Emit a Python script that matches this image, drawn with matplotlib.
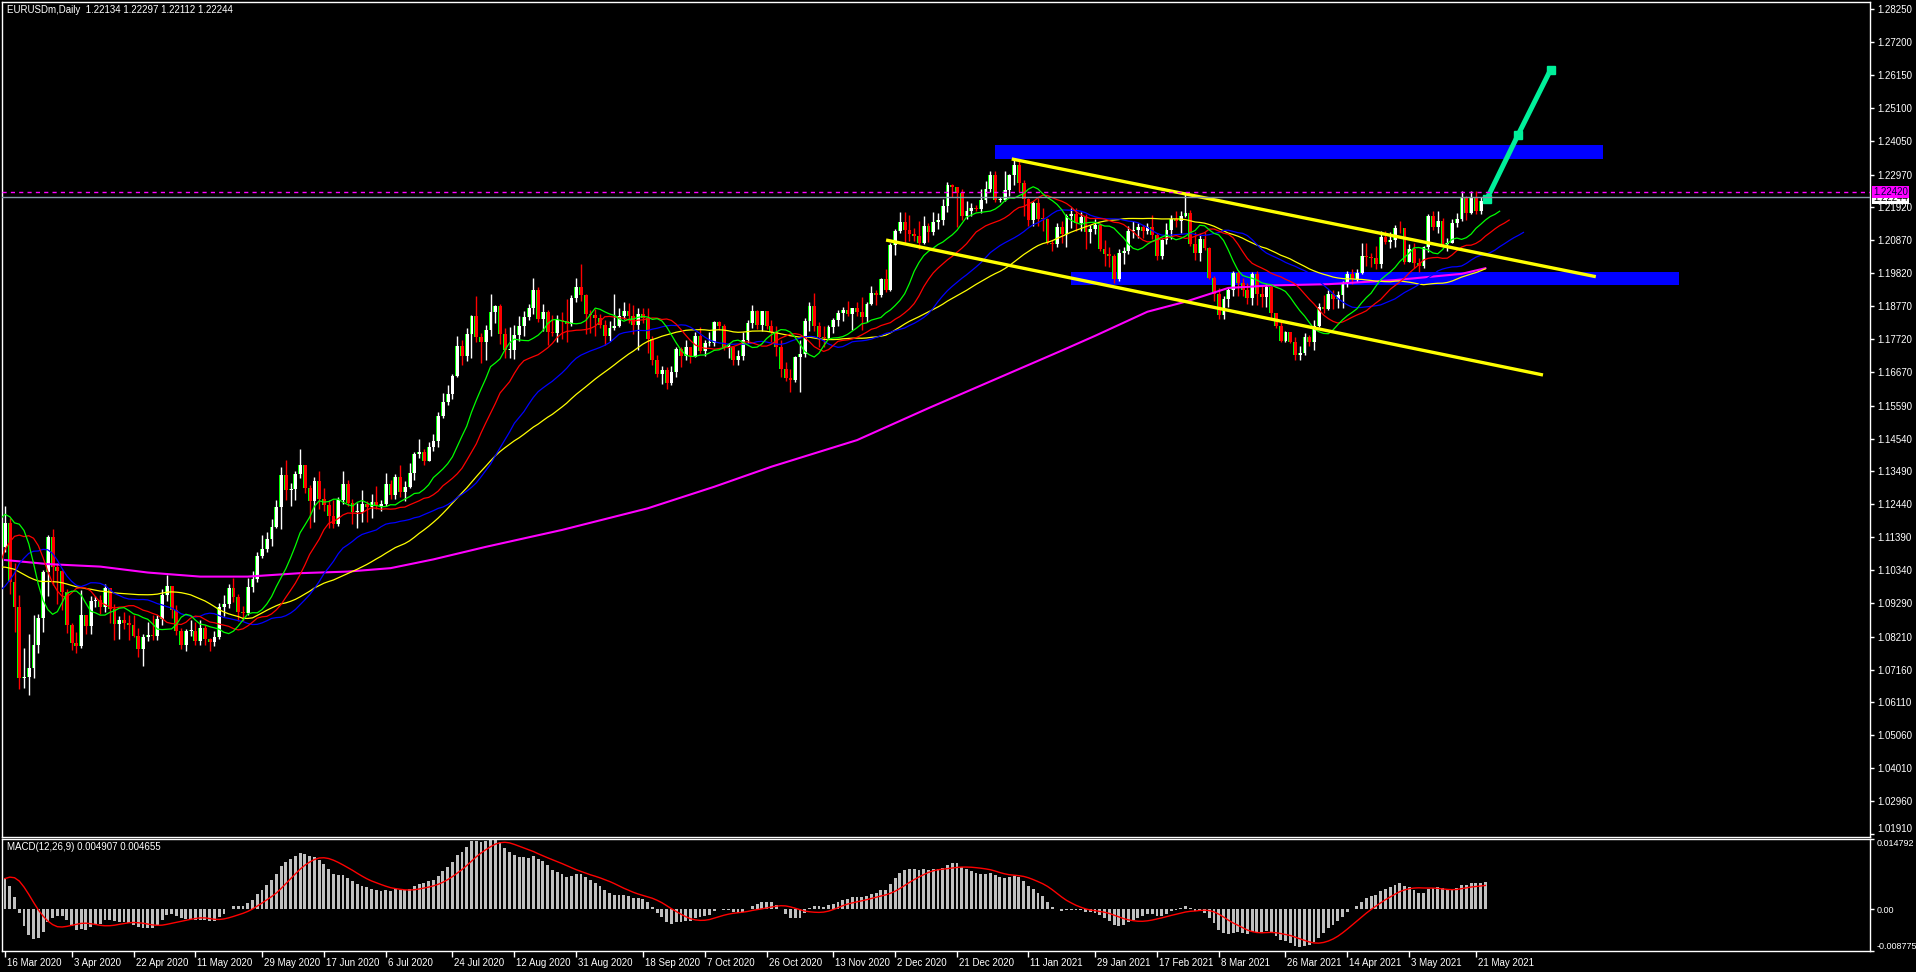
import numpy as np
import pandas as pd
import matplotlib
matplotlib.use('Agg')
import matplotlib.pyplot as plt
from matplotlib.transforms import ScaledTranslation

plt.rcParams['font.family'] = ['Liberation Sans', 'DejaVu Sans']

# daily closes before the first visible bar (2 Jan - 13 Mar 2020), only used to warm up indicators
pre_closes = [1.1172, 1.1160,
              1.1196, 1.1152, 1.1103, 1.1105, 1.1122,
              1.1134, 1.1128, 1.1150, 1.1138, 1.1091,
              1.1095, 1.1083, 1.1093, 1.1054, 1.1025,
              1.1019, 1.1021, 1.1009, 1.1031, 1.1093,
              1.1061, 1.1044, 1.1000, 1.0982, 1.0945,
              1.0914, 1.0915, 1.0873, 1.0839, 1.0830,
              1.0837, 1.0791, 1.0804, 1.0785, 1.0846,
              1.0853, 1.0882, 1.0882, 1.0994, 1.1026,
              1.1137, 1.1174, 1.1136, 1.1236, 1.1285,
              1.1424, 1.1285, 1.1270, 1.1174, 1.1106]

# EURUSD daily bars, 16 Mar 2020 - 25 May 2021 (one row per week)
closes = [1.1183, 1.0995, 1.0915, 1.0690, 1.0693,
          1.0722, 1.0795, 1.0881, 1.1029, 1.1141,
          1.1043, 1.1031, 1.0964, 1.0857, 1.0801,
          1.0792, 1.0890, 1.0855, 1.0935, 1.0937,
          1.0915, 1.0977, 1.0908, 1.0863, 1.0875,
          1.0864, 1.0857, 1.0823, 1.0782, 1.0820,
          1.0826, 1.0822, 1.0877, 1.0954, 1.0982,
          1.0907, 1.0838, 1.0796, 1.0838, 1.0839,
          1.0807, 1.0850, 1.0815, 1.0804, 1.0819,
          1.0917, 1.0924, 1.0976, 1.0947, 1.0899,
          1.0898, 1.0980, 1.1006, 1.1079, 1.1100,
          1.1134, 1.1171, 1.1234, 1.1338, 1.1290,
          1.1293, 1.1340, 1.1368, 1.1296, 1.1256,
          1.1317, 1.1262, 1.1243, 1.1205, 1.1180,
          1.1258, 1.1310, 1.1248, 1.1220, 1.1220,
          1.1244, 1.1234, 1.1251, 1.1238, 1.1245,
          1.1310, 1.1274, 1.1331, 1.1284, 1.1299,
          1.1343, 1.1405, 1.1412, 1.1383, 1.1428,
          1.1447, 1.1525, 1.1570, 1.1595, 1.1655,
          1.1750, 1.1717, 1.1789, 1.1845, 1.1777,
          1.1762, 1.1800, 1.1859, 1.1877, 1.1787,
          1.1737, 1.1738, 1.1786, 1.1812, 1.1841,
          1.1870, 1.1930, 1.1836, 1.1858, 1.1795,
          1.1792, 1.1833, 1.1831, 1.1820, 1.1903,
          1.1937, 1.1913, 1.1853, 1.1849, 1.1838,
          1.1817, 1.1780, 1.1806, 1.1815, 1.1845,
          1.1862, 1.1844, 1.1816, 1.1852, 1.1839,
          1.1772, 1.1706, 1.1660, 1.1672, 1.1631,
          1.1666, 1.1740, 1.1718, 1.1747, 1.1715,
          1.1782, 1.1735, 1.1759, 1.1760, 1.1827,
          1.1814, 1.1745, 1.1746, 1.1706, 1.1718,
          1.1769, 1.1822, 1.1861, 1.1818, 1.1860,
          1.1813, 1.1793, 1.1746, 1.1676, 1.1647,
          1.1642, 1.1716, 1.1723, 1.1831, 1.1877,
          1.1814, 1.1779, 1.1776, 1.1809, 1.1834,
          1.1855, 1.1864, 1.1853, 1.1871, 1.1857,
          1.1841, 1.1885, 1.1920, 1.1914, 1.1963,
          1.1928, 1.2072, 1.2116, 1.2146, 1.2121,
          1.2106, 1.2100, 1.2079, 1.2134, 1.2114,
          1.2145, 1.2151, 1.2197, 1.2264, 1.2256,
          1.2239, 1.2165, 1.2182, 1.2189, 1.2188,
          1.2215, 1.2250, 1.2297, 1.2216, 1.2216,
          1.2249, 1.2297, 1.2328, 1.2271, 1.2220,
          1.2151, 1.2207, 1.2156, 1.2155, 1.2079,
          1.2076, 1.2131, 1.2107, 1.2164, 1.2171,
          1.2141, 1.2161, 1.2114, 1.2124, 1.2136,
          1.2060, 1.2042, 1.2036, 1.1963, 1.2047,
          1.2052, 1.2117, 1.2120, 1.2130, 1.2118,
          1.2130, 1.2103, 1.2038, 1.2089, 1.2120,
          1.2155, 1.2149, 1.2165, 1.2175, 1.2075,
          1.2048, 1.2090, 1.2063, 1.1967, 1.1915,
          1.1847, 1.1901, 1.1928, 1.1984, 1.1952,
          1.1928, 1.1902, 1.1978, 1.1915, 1.1906,
          1.1938, 1.1854, 1.1813, 1.1764, 1.1794,
          1.1763, 1.1720, 1.1728, 1.1778, 1.1762,
          1.1813, 1.1873, 1.1869, 1.1916, 1.1899,
          1.1912, 1.1947, 1.1980, 1.1964, 1.1982,
          1.2037, 1.2035, 1.2032, 1.2013, 1.2097,
          1.2081, 1.2087, 1.2128, 1.2125, 1.2018,
          1.2060, 1.2016, 1.2004, 1.2065, 1.2165,
          1.2131, 1.2149, 1.2076, 1.2080, 1.2143,
          1.2155, 1.2222, 1.2175, 1.2227, 1.2180,
          1.2213, 1.22244]

highs = [1.1237, 1.1200, 1.1058, 1.0955, 1.0784,
         1.0830, 1.0890, 1.0895, 1.1035, 1.1147,
         1.1166, 1.1058, 1.1034, 1.0973, 1.0864,
         1.0836, 1.0969, 1.0891, 1.0952, 1.0950,
         1.0955, 1.0990, 1.0966, 1.0925, 1.0886,
         1.0901, 1.0890, 1.0890, 1.0850, 1.0829,
         1.0868, 1.0890, 1.0890, 1.0973, 1.1019,
         1.0977, 1.0921, 1.0848, 1.0845, 1.0875,
         1.0867, 1.0874, 1.0860, 1.0818, 1.0838,
         1.0928, 1.0955, 1.0990, 1.1009, 1.0957,
         1.0920, 1.1008, 1.1030, 1.1092, 1.1147,
         1.1155, 1.1196, 1.1257, 1.1362, 1.1384,
         1.1311, 1.1350, 1.1422, 1.1371, 1.1305,
         1.1330, 1.1351, 1.1297, 1.1257, 1.1257,
         1.1267, 1.1349, 1.1320, 1.1262, 1.1247,
         1.1289, 1.1253, 1.1276, 1.1303, 1.1259,
         1.1345, 1.1323, 1.1341, 1.1371, 1.1318,
         1.1375, 1.1412, 1.1452, 1.1422, 1.1444,
         1.1467, 1.1540, 1.1601, 1.1625, 1.1660,
         1.1781, 1.1768, 1.1806, 1.1848, 1.1909,
         1.1790, 1.1818, 1.1916, 1.1882, 1.1884,
         1.1806, 1.1809, 1.1818, 1.1846, 1.1861,
         1.1884, 1.1966, 1.1937, 1.1883, 1.1864,
         1.1848, 1.1847, 1.1857, 1.1900, 1.1914,
         1.1966, 1.2011, 1.1915, 1.1863, 1.1869,
         1.1852, 1.1834, 1.1830, 1.1917, 1.1870,
         1.1890, 1.1888, 1.1882, 1.1872, 1.1872,
         1.1871, 1.1782, 1.1720, 1.1686, 1.1683,
         1.1685, 1.1745, 1.1747, 1.1770, 1.1747,
         1.1794, 1.1810, 1.1769, 1.1793, 1.1831,
         1.1830, 1.1820, 1.1760, 1.1744, 1.1737,
         1.1795, 1.1833, 1.1880, 1.1864, 1.1861,
         1.1859, 1.1832, 1.1814, 1.1769, 1.1700,
         1.1676, 1.1719, 1.1770, 1.1838, 1.1891,
         1.1920, 1.1827, 1.1815, 1.1816, 1.1838,
         1.1864, 1.1873, 1.1894, 1.1869, 1.1891,
         1.1905, 1.1890, 1.1942, 1.1930, 1.1966,
         1.1996, 1.2078, 1.2122, 1.2177, 1.2177,
         1.2167, 1.2127, 1.2148, 1.2164, 1.2143,
         1.2178, 1.2175, 1.2219, 1.2273, 1.2266,
         1.2250, 1.2250, 1.2213, 1.2205, 1.2200,
         1.2250, 1.2276, 1.2310, 1.2310, 1.2225,
         1.2310, 1.2300, 1.2349, 1.2339, 1.2281,
         1.2221, 1.2212, 1.2222, 1.2190, 1.2158,
         1.2089, 1.2144, 1.2148, 1.2172, 1.2190,
         1.2189, 1.2176, 1.2170, 1.2137, 1.2156,
         1.2144, 1.2087, 1.2065, 1.2044, 1.2058,
         1.2065, 1.2132, 1.2150, 1.2144, 1.2135,
         1.2144, 1.2169, 1.2110, 1.2092, 1.2144,
         1.2169, 1.2182, 1.2180, 1.2243, 1.2183,
         1.2113, 1.2106, 1.2114, 1.2066, 1.1974,
         1.1935, 1.1909, 1.1938, 1.1990, 1.1990,
         1.1966, 1.1951, 1.1985, 1.1989, 1.1940,
         1.1946, 1.1942, 1.1853, 1.1830, 1.1799,
         1.1794, 1.1779, 1.1748, 1.1791, 1.1785,
         1.1834, 1.1888, 1.1914, 1.1927, 1.1928,
         1.1926, 1.1958, 1.1990, 1.1995, 1.1995,
         1.2080, 1.2080, 1.2048, 1.2070, 1.2117,
         1.2116, 1.2115, 1.2135, 1.2150, 1.2125,
         1.2075, 1.2078, 1.2032, 1.2068, 1.2172,
         1.2182, 1.2180, 1.2157, 1.2095, 1.2154,
         1.2174, 1.2245, 1.2228, 1.2244, 1.2244,
         1.2225, 1.22297]

lows = [1.1090, 1.0958, 1.0836, 1.0655, 1.0656,
        1.0636, 1.0690, 1.0770, 1.0835, 1.0952,
        1.0985, 1.0926, 1.0906, 1.0832, 1.0780,
        1.0768, 1.0784, 1.0830, 1.0830, 1.0915,
        1.0895, 1.0900, 1.0865, 1.0812, 1.0815,
        1.0846, 1.0812, 1.0820, 1.0757, 1.0727,
        1.0808, 1.0809, 1.0810, 1.0857, 1.0934,
        1.0880, 1.0825, 1.0782, 1.0775, 1.0822,
        1.0795, 1.0794, 1.0795, 1.0774, 1.0790,
        1.0813, 1.0886, 1.0913, 1.0933, 1.0870,
        1.0872, 1.0890, 1.0963, 1.0995, 1.1072,
        1.1093, 1.1110, 1.1167, 1.1166, 1.1257,
        1.1240, 1.1257, 1.1329, 1.1279, 1.1168,
        1.1187, 1.1230, 1.1223, 1.1168, 1.1167,
        1.1174, 1.1244, 1.1238, 1.1181, 1.1167,
        1.1189, 1.1188, 1.1200, 1.1229, 1.1223,
        1.1240, 1.1262, 1.1262, 1.1266, 1.1255,
        1.1296, 1.1320, 1.1393, 1.1370, 1.1383,
        1.1414, 1.1427, 1.1521, 1.1562, 1.1580,
        1.1652, 1.1690, 1.1702, 1.1712, 1.1763,
        1.1696, 1.1705, 1.1780, 1.1822, 1.1755,
        1.1711, 1.1712, 1.1709, 1.1767, 1.1783,
        1.1833, 1.1852, 1.1826, 1.1798, 1.1753,
        1.1782, 1.1761, 1.1772, 1.1762, 1.1815,
        1.1890, 1.1892, 1.1789, 1.1790, 1.1780,
        1.1806, 1.1752, 1.1765, 1.1800, 1.1810,
        1.1836, 1.1822, 1.1787, 1.1737, 1.1822,
        1.1728, 1.1688, 1.1649, 1.1627, 1.1612,
        1.1626, 1.1652, 1.1684, 1.1706, 1.1696,
        1.1714, 1.1728, 1.1718, 1.1749, 1.1751,
        1.1800, 1.1737, 1.1710, 1.1688, 1.1689,
        1.1706, 1.1760, 1.1806, 1.1805, 1.1796,
        1.1805, 1.1761, 1.1718, 1.1651, 1.1639,
        1.1602, 1.1636, 1.1603, 1.1715, 1.1797,
        1.1799, 1.1747, 1.1746, 1.1771, 1.1792,
        1.1815, 1.1829, 1.1846, 1.1800, 1.1845,
        1.1800, 1.1825, 1.1880, 1.1880, 1.1906,
        1.1923, 1.1925, 1.2039, 1.2110, 1.2080,
        1.2086, 1.2085, 1.2060, 1.2074, 1.2082,
        1.2105, 1.2124, 1.2137, 1.2176, 1.2224,
        1.2130, 1.2153, 1.2156, 1.2165, 1.2180,
        1.2175, 1.2205, 1.2240, 1.2211, 1.2210,
        1.2212, 1.2230, 1.2263, 1.2240, 1.2164,
        1.2132, 1.2133, 1.2132, 1.2117, 1.2074,
        1.2054, 1.2065, 1.2080, 1.2065, 1.2127,
        1.2116, 1.2118, 1.2058, 1.2080, 1.2107,
        1.2052, 1.2005, 1.2003, 1.1952, 1.1956,
        1.2010, 1.2045, 1.2094, 1.2096, 1.2093,
        1.2107, 1.2092, 1.2023, 1.2026, 1.2076,
        1.2091, 1.2130, 1.2110, 1.2163, 1.2069,
        1.2025, 1.2022, 1.2055, 1.1965, 1.1893,
        1.1835, 1.1836, 1.1875, 1.1910, 1.1910,
        1.1910, 1.1883, 1.1880, 1.1880, 1.1873,
        1.1874, 1.1840, 1.1808, 1.1762, 1.1761,
        1.1760, 1.1704, 1.1704, 1.1722, 1.1749,
        1.1737, 1.1811, 1.1854, 1.1866, 1.1869,
        1.1871, 1.1870, 1.1939, 1.1948, 1.1955,
        1.1980, 1.2005, 1.2003, 1.1995, 1.2000,
        1.2075, 1.2062, 1.2065, 1.2109, 1.2012,
        1.2017, 1.1999, 1.1986, 1.2000, 1.2051,
        1.2120, 1.2110, 1.2066, 1.2052, 1.2080,
        1.2131, 1.2150, 1.2152, 1.2170, 1.2171,
        1.2172, 1.22112]

# 200-day MA (magenta) at a few dates
ma200_dates = ['2020-03-16', '2020-03-27', '2020-04-13', '2020-04-27', '2020-05-12',
               '2020-05-26', '2020-06-10', '2020-06-24', '2020-07-07', '2020-07-20',
               '2020-08-04', '2020-08-26', '2020-09-21', '2020-10-09', '2020-10-27',
               '2020-11-20', '2020-12-11', '2020-12-31', '2021-01-20', '2021-01-29',
               '2021-02-15', '2021-02-25', '2021-03-10', '2021-03-23', '2021-04-08',
               '2021-04-28', '2021-05-18', '2021-05-25']
ma200_vals = [1.1066, 1.1053, 1.1045, 1.1026, 1.1013, 1.1013, 1.1024, 1.1029, 1.1040, 1.1068,
              1.1108, 1.1162, 1.1231, 1.1300, 1.1364, 1.1449, 1.1551, 1.1643, 1.1735, 1.1782,
              1.1859, 1.1891, 1.1935, 1.1943, 1.1947, 1.1960, 1.1980, 1.1998]

# hand drawn objects: (bar number, price)
upper_trend = [(211.5, 1.2347), (334.2, 1.1971)]
lower_trend = [(185.1, 1.2088), (323.1, 1.1657)]
target_arrow = [(311.3, 1.2219), (317.8, 1.2422), (324.7, 1.2632)]
zones = [(208.0, 335.7, 1.2347, 1.2392), (224.0, 351.7, 1.1944, 1.1986)]
ask_price = 1.22420
bid_price = 1.22244

price_ticks = [1.28250, 1.27200, 1.26150, 1.25100, 1.24050, 1.22970, 1.21920, 1.20870,
               1.19820, 1.18770, 1.17720, 1.16670, 1.15590, 1.14540, 1.13490, 1.12440,
               1.11390, 1.10340, 1.09290, 1.08210, 1.07160, 1.06110, 1.05060, 1.04010,
               1.02960, 1.01910]
tick_dates = ['2020-03-16', '2020-04-03', '2020-04-22', '2020-05-11', '2020-05-29', '2020-06-17',
              '2020-07-06', '2020-07-24', '2020-08-12', '2020-08-31', '2020-09-18', '2020-10-07',
              '2020-10-26', '2020-11-13', '2020-12-02', '2020-12-21', '2021-01-11', '2021-01-29',
              '2021-02-17', '2021-03-08', '2021-03-26', '2021-04-14', '2021-05-03', '2021-05-21']

dates = pd.bdate_range('2020-03-16', periods=len(closes))
n = len(closes)
npre = len(pre_closes)
x = np.arange(n)

c = np.array(closes)
o = np.array([pre_closes[-1]] + closes[:-1])
h = np.maximum(np.array(highs), np.maximum(o, c))
l = np.minimum(np.array(lows), np.minimum(o, c))

# indicators
all_close = pd.Series(pre_closes + closes)
all_median = pd.Series(pre_closes + list((h + l) / 2))
all_x = np.arange(-npre, n)
sma50 = all_close.rolling(50, min_periods=1).mean().values
ema12 = all_close.ewm(span=12, adjust=False).mean()
ema26 = all_close.ewm(span=26, adjust=False).mean()
macd = (ema12 - ema26)
signal = macd.rolling(9, min_periods=1).mean()
macd = macd.values[npre:]
signal = signal.values[npre:]


def smma(s, period):
    return s.ewm(alpha=1.0 / period, adjust=False).mean().values


jaw = smma(all_median, 13)    # blue, shifted 8
teeth = smma(all_median, 8)   # red, shifted 5
lips = smma(all_median, 5)    # green, shifted 3

W, H = 1916, 972
fig = plt.figure(figsize=(W / 100, H / 100), dpi=100, facecolor='black')
ax = fig.add_axes([2 / W, 1 - 837 / H, 1868 / W, 835 / H], facecolor='black')
ax2 = fig.add_axes([2 / W, 1 - 951 / H, 1868 / W, 112 / H], facecolor='black')

xmin, xmax = -0.63, 391.8
for a in (ax, ax2):
    a.set_xlim(xmin, xmax)
    for s in a.spines.values():
        s.set_color('white')
        s.set_linewidth(1)
    a.yaxis.tick_right()
    a.tick_params(axis='y', colors='white', labelcolor='white', length=3, width=1,
                  labelsize=7, pad=2, direction='out')

ax.set_ylim(1.01813, 1.28483)

# zones
for x0, x1, p0, p1 in zones:
    ax.fill_between([x0, x1], p0, p1, color='#0000ff', lw=0, zorder=1)

# candles: white/red bodies with a lime edge, wick in body colour
up = c >= o
body_lo = np.minimum(o, c)
body_h = np.maximum(np.abs(c - o), 0.0003)
ax.vlines(x[up], l[up], h[up], color='white', lw=1.0, zorder=2)
ax.vlines(x[~up], l[~up], h[~up], color='#ff0000', lw=1.0, zorder=2)
ax.bar(x[up], body_h[up], bottom=body_lo[up], width=0.8, color='white', lw=0, zorder=3)
ax.bar(x[~up], body_h[~up], bottom=body_lo[~up], width=0.8, color='#ff0000', lw=0, zorder=3)
ax.bar(x - 0.3, body_h, bottom=body_lo, width=0.2, color='#00ff00', lw=0, zorder=3)

# moving averages
ax.plot(pd.to_datetime(ma200_dates).map(lambda d: dates.get_loc(d)), ma200_vals,
        color='#ff00ff', lw=1.5, zorder=4)
ax.plot(all_x, sma50, color='#ffff00', lw=0.9, zorder=4)
ax.plot(all_x + 8, jaw, color='#0000ff', lw=0.9, zorder=4)
ax.plot(all_x + 5, teeth, color='#ff0000', lw=0.9, zorder=4)
ax.plot(all_x + 3, lips, color='#00ff00', lw=0.9, zorder=4)

# trend channel
for line in (upper_trend, lower_trend):
    xs, ps = zip(*line)
    ax.plot(xs, ps, color='#ffff00', lw=2.4, solid_capstyle='butt', zorder=5)

xs, ps = zip(*target_arrow)
ax.plot(xs, ps, color='#00f09a', lw=3.6, marker='s', ms=6, zorder=6)

# price lines
ax.axhline(ask_price, color='#ff00ff', lw=1, ls=(0, (3, 3)), zorder=6)
ax.axhline(bid_price, color='#8899aa', lw=1, zorder=6)

ax.set_yticks(price_ticks)
ax.set_yticklabels([f'{p:.5f}' for p in price_ticks])
ax.tick_params(axis='x', bottom=False, labelbottom=False)
ax.get_yticklabels()[-1].set_verticalalignment('bottom')

tr = ax.get_yaxis_transform() + ScaledTranslation(3 / 100, 0, fig.dpi_scale_trans)
ax.text(1.0, bid_price - 0.0003, f'{bid_price:.5f}', transform=tr, ha='left', va='center',
        fontsize=7, color='black', clip_on=False, zorder=10,
        bbox=dict(boxstyle='square,pad=0.12', fc='white', ec='none'))
ax.text(1.0, ask_price, f'{ask_price:.5f}', transform=tr, ha='left', va='center',
        fontsize=7, color='#000040', clip_on=False, zorder=11,
        bbox=dict(boxstyle='square,pad=0.12', fc='#ff00ff', ec='none'))

fig.text(7 / W, 1 - 5 / H, 'EURUSDm,Daily  1.22134 1.22297 1.22112 1.22244',
         color='white', fontsize=7, ha='left', va='top')

# MACD panel
ax2.set_ylim(-0.008775, 0.014792)
ax2.bar(x, macd, width=0.6, color='#c0c0c0', lw=0, zorder=2)
ax2.plot(x, signal, color='#ff0000', lw=1, zorder=3)
ax2.set_yticks([0.014792, 0.0, -0.008775])
ax2.set_yticklabels(['0.014792', '0.00', '-0.008775'])
ax2.tick_params(axis='y', labelsize=6.5, pad=1.5)
mlabels = ax2.get_yticklabels()
mlabels[0].set_verticalalignment('top')
mlabels[2].set_verticalalignment('bottom')
fig.text(7 / W, 1 - 842 / H, 'MACD(12,26,9) 0.004907 0.004655',
         color='white', fontsize=7, ha='left', va='top')

tick_idx = dates.get_indexer(pd.to_datetime(tick_dates))
ax2.set_xticks(tick_idx)
ax2.set_xticklabels([f'{d.day} {d:%b %Y}' for d in pd.to_datetime(tick_dates)])
ax2.tick_params(axis='x', colors='white', labelcolor='white', length=4, width=1,
                labelsize=7, pad=1, direction='out')
off = ScaledTranslation(2 / 100, 0, fig.dpi_scale_trans)
for lbl in ax2.get_xticklabels():
    lbl.set_horizontalalignment('left')
    lbl.set_transform(lbl.get_transform() + off)

fig.savefig('out.png', dpi=100, facecolor='black')
